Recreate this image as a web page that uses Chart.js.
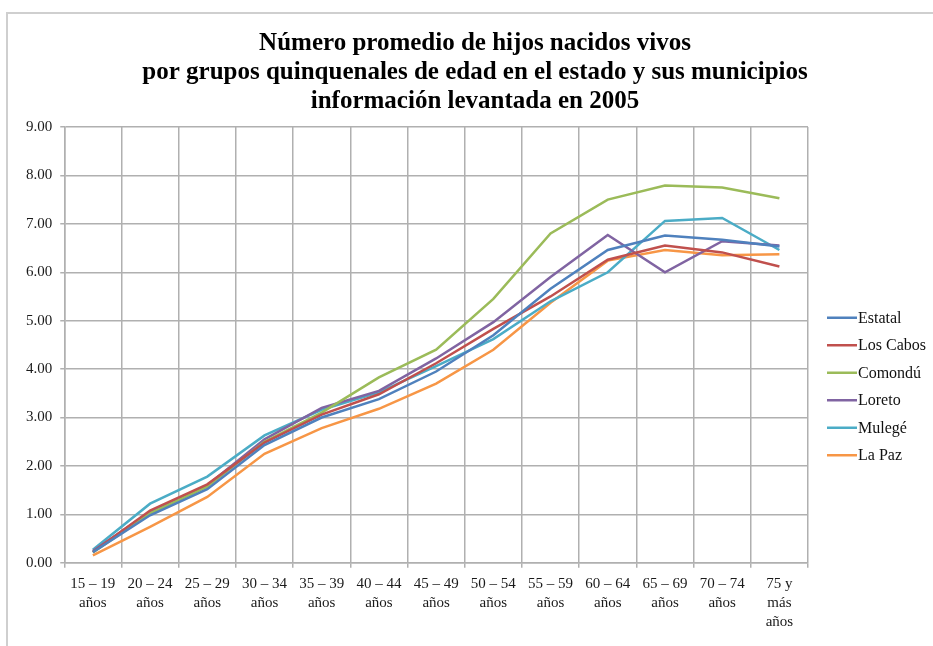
<!DOCTYPE html>
<html>
<head>
<meta charset="utf-8">
<script src="https://cdn.jsdelivr.net/npm/chart.js@4.4.1/dist/chart.umd.min.js"></script>
<style>
  html, body { margin: 0; padding: 0; background: #ffffff; }
  #wrap { position: relative; width: 933px; height: 646px; overflow: hidden; }
  #frame { position: absolute; left: 6px; top: 12px; width: 1000px; height: 700px;
           border-top: 2px solid #cfcfcf; border-left: 2px solid #cfcfcf; }
  canvas { position: absolute; left: 0; top: 0; }
</style>
</head>
<body>
<div id="wrap">
  <div id="frame"></div>
  <canvas id="c" width="933" height="646"></canvas>
</div>
<script>
const titleLines = [
  "Número promedio de hijos nacidos vivos",
  "por grupos quinquenales de edad en el estado y sus municipios",
  "información levantada en 2005"
];
const categories = [
  ["15 – 19", "años"], ["20 – 24", "años"], ["25 – 29", "años"], ["30 – 34", "años"],
  ["35 – 39", "años"], ["40 – 44", "años"], ["45 – 49", "años"], ["50 – 54", "años"],
  ["55 – 59", "años"], ["60 – 64", "años"], ["65 – 69", "años"], ["70 – 74", "años"],
  ["75 y", "más", "años"]
];
const seriesNames = ["Estatal", "Los Cabos", "Comondú", "Loreto", "Mulegé", "La Paz"];
const estatal  = [0.22, 0.98, 1.52, 2.43, 3.00, 3.38, 3.95, 4.70, 5.66, 6.46, 6.76, 6.67, 6.53];
const losCabos = [0.22, 1.08, 1.62, 2.48, 3.06, 3.48, 4.12, 4.83, 5.50, 6.26, 6.55, 6.41, 6.12];
const comondu  = [0.21, 1.02, 1.57, 2.50, 3.10, 3.83, 4.40, 5.45, 6.80, 7.50, 7.79, 7.75, 7.53];
const loreto   = [0.24, 1.05, 1.60, 2.55, 3.20, 3.55, 4.22, 4.97, 5.90, 6.77, 6.00, 6.64, 6.55];
const mulege   = [0.27, 1.22, 1.78, 2.63, 3.16, 3.52, 4.06, 4.62, 5.40, 6.00, 7.06, 7.12, 6.46];
const laPaz    = [0.15, 0.74, 1.36, 2.25, 2.78, 3.18, 3.70, 4.40, 5.37, 6.24, 6.46, 6.35, 6.37];
const seriesColors = ["#4F81BD", "#C0504D", "#9BBB59", "#8064A2", "#4BACC6", "#F79646"];
const yTicks = [0, 1, 2, 3, 4, 5, 6, 7, 8, 9];

const allSeries = [estatal, losCabos, comondu, loreto, mulege, laPaz];
const FONT = "'Liberation Serif', 'Times New Roman', serif";

const titleLegendPlugin = {
  id: 'titleLegend',
  afterDraw(chart) {
    const ctx = chart.ctx;
    const ca = chart.chartArea;
    ctx.save();
    // title
    ctx.fillStyle = '#000000';
    ctx.font = "bold 25px " + FONT;
    ctx.textAlign = 'center';
    ctx.textBaseline = 'middle';
    const tx = 475;
    titleLines.forEach((t, i) => ctx.fillText(t, tx, 44 + i * 29));
    // legend
    const items = chart.data.datasets;
    const step = 27.5;
    const centerY = (ca.top + chart.height) / 2;
    const y0 = centerY - step * (items.length - 1) / 2;
    const x0 = ca.right + 19;
    ctx.font = "16px " + FONT;
    ctx.textAlign = 'left';
    items.forEach((ds, i) => {
      const y = y0 + i * step;
      ctx.strokeStyle = ds.borderColor;
      ctx.lineWidth = 2.5;
      ctx.beginPath();
      ctx.moveTo(x0, y);
      ctx.lineTo(x0 + 30, y);
      ctx.stroke();
      ctx.fillStyle = '#111111';
      ctx.fillText(ds.label, x0 + 31, y + 1);
    });
    ctx.restore();
  }
};

new Chart(document.getElementById('c'), {
  type: 'line',
  data: {
    labels: categories,
    datasets: seriesNames.map((name, i) => ({
      label: name,
      data: allSeries[i],
      borderColor: seriesColors[i],
      backgroundColor: seriesColors[i],
      borderWidth: 2.5,
      pointRadius: 0,
      pointHoverRadius: 0,
      tension: 0,
      fill: false
    }))
  },
  options: {
    responsive: false,
    devicePixelRatio: 1,
    animation: false,
    layout: { padding: { top: 127, left: 18, right: 125, bottom: 8 } },
    plugins: {
      legend: { display: false },
      title: { display: false },
      tooltip: { enabled: false }
    },
    scales: {
      x: {
        offset: true,
        grid: { offset: true, color: '#b0b0b0', lineWidth: 1.5, tickLength: 5, drawTicks: true },
        border: { color: '#b0b0b0', width: 1.5 },
        ticks: {
          font: { family: FONT, size: 15, lineHeight: 1.25 },
          color: '#1a1a1a', maxRotation: 0, minRotation: 0, autoSkip: false, padding: 7
        }
      },
      y: {
        min: 0, max: 9,
        afterBuildTicks(scale) { scale.ticks = yTicks.map(v => ({ value: v })); },
        grid: { color: '#b0b0b0', lineWidth: 1.5, tickLength: 4 },
        border: { color: '#b0b0b0', width: 1.5 },
        ticks: {
          font: { family: FONT, size: 15 },
          color: '#1a1a1a', padding: 8,
          callback: v => Number(v).toFixed(2)
        }
      }
    }
  },
  plugins: [titleLegendPlugin]
});
</script>
</body>
</html>
